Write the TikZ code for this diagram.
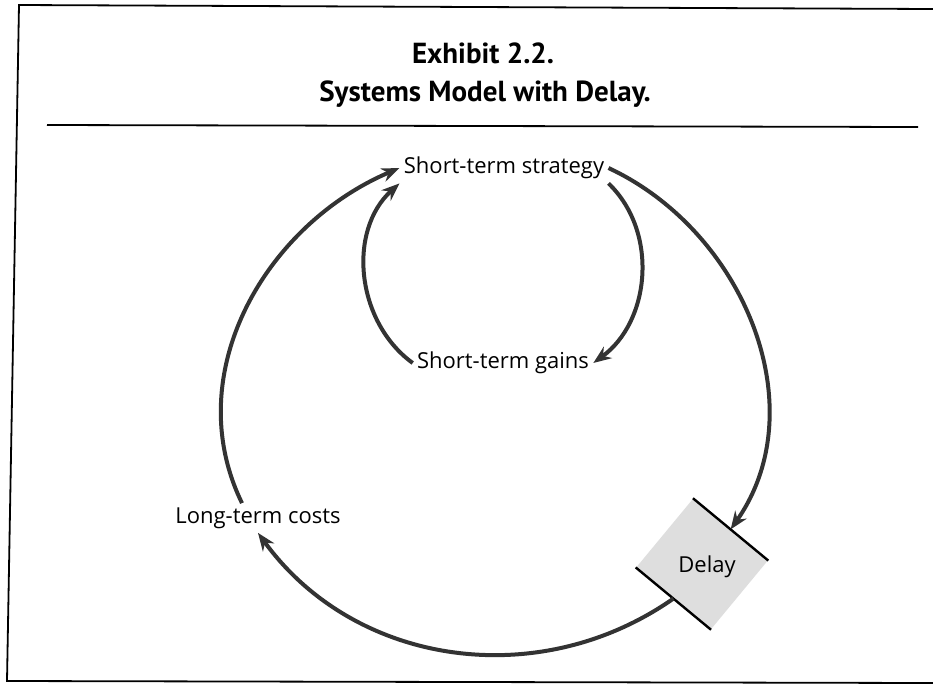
\documentclass[tikz,border=0pt]{standalone}
\usepackage{fontspec}
\setmainfont{Open Sans}
\newfontfamily\ttlfont{PT Sans}
\usetikzlibrary{arrows.meta}
\begin{document}
\begin{tikzpicture}[x=0.5pt,y=-0.5pt,
  lbl/.style={font=\fontsize{11}{13}\selectfont,inner sep=2pt},
  ttl/.style={font=\ttlfont\bfseries\fontsize{14.5}{17}\selectfont,inner sep=0pt},
  cycarc/.style={line width=2pt,color=black!80,-{Stealth[length=9pt,width=7pt,inset=3pt]}},
  delaybox/.style={rotate=-39.6,minimum width=48.5pt,minimum height=44.5pt,fill=black!13,inner sep=0pt}]
\useasboundingbox(0,0)rectangle(933,687);
% frame and title
\draw[line width=0.9pt](933,9)--(19,5)--(7,681)--(933,683);
\draw[line width=0.9pt](47,125)--(918,127);
\node[ttl](ex)at(483,53){Exhibit 2.2.};
\node[ttl](tt)at(485,94){Systems Model with Delay.};
% the loop
\node[lbl](strat)at(504,168){Short-term strategy};
\node[lbl](sgain)at(503,363){Short-term gains};
\node[lbl](lterm)at(258,518){Long-term costs};
\node[delaybox](dly)at(702,564){};
\draw[line width=1.2pt](dly.north west)--(dly.north east)(dly.south west)--(dly.south east);
\node[lbl](dtxt)at(707,567){Delay};
\draw[cycarc](strat.east)to[out=-25,in=55](dly.north);
\draw[cycarc](dly.south)to[out=-145,in=-54](lterm.south);
\draw[cycarc]([xshift=-8pt]lterm.north)to[out=116,in=-157](strat.west);
\draw[cycarc](sgain.west)to[out=144,in=222](strat.south west);
\draw[cycarc](strat.south east)to[out=-44,in=36](sgain.east);
\end{tikzpicture}
\end{document}
